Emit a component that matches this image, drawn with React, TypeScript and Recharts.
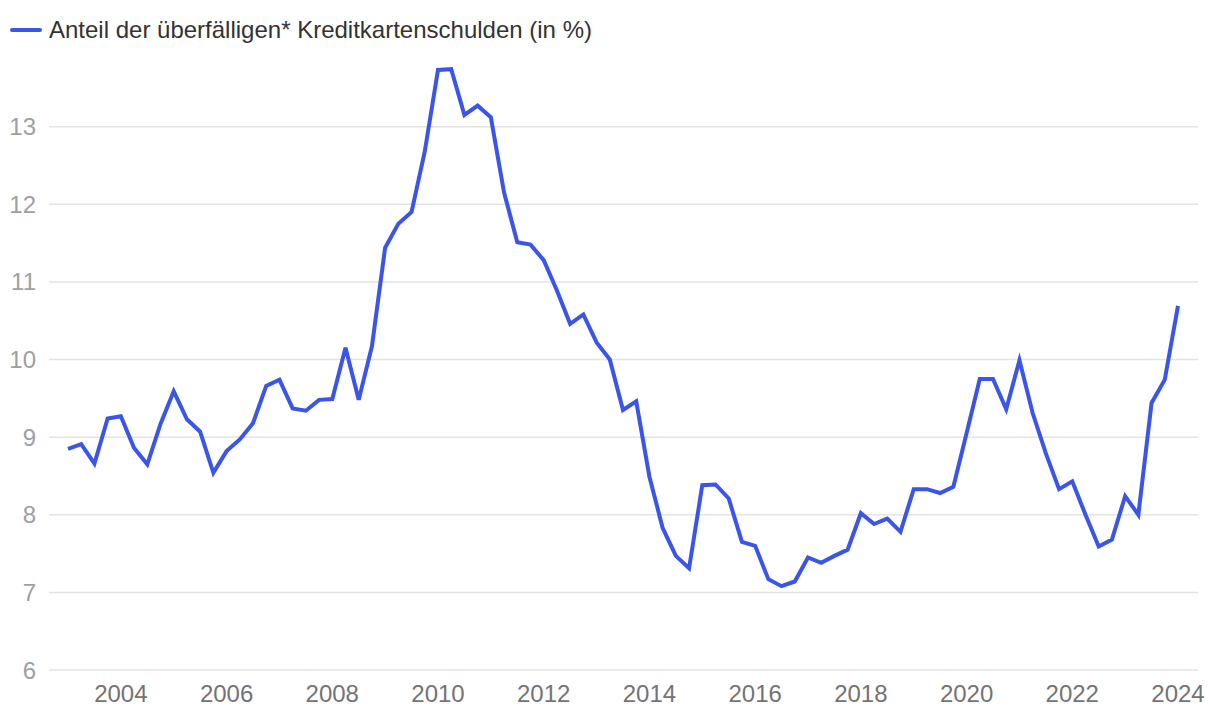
import { LineChart, Line, XAxis, YAxis, CartesianGrid } from 'recharts';

const seriesName = 'Anteil der überfälligen* Kreditkartenschulden (in %)';
const lineColor = '#3b55e8';

// quarterly values, 2003 Q1 .. 2024 Q1
const startYear = 2003;
const overdueShare = [
  8.85, 8.91, 8.66, 9.24, 9.27, 8.86, 8.65, 9.17, 9.59, 9.23, 9.07, 8.54,
  8.82, 8.97, 9.18, 9.66, 9.74, 9.37, 9.34, 9.48, 9.49, 10.15, 9.48, 10.17,
  11.44, 11.75, 11.9, 12.68, 13.73, 13.74, 13.15, 13.27, 13.12, 12.15, 11.51, 11.48,
  11.28, 10.89, 10.46, 10.58, 10.22, 10.0, 9.35, 9.46, 8.49, 7.83, 7.47, 7.31,
  8.38, 8.39, 8.21, 7.65, 7.6, 7.17, 7.08, 7.14, 7.45, 7.38, 7.47, 7.55,
  8.02, 7.88, 7.95, 7.78, 8.33, 8.33, 8.28, 8.36, 9.05, 9.75, 9.75, 9.36,
  9.99, 9.31, 8.79, 8.33, 8.43, 8.0, 7.59, 7.68, 8.24, 8.0, 9.44, 9.74,
  10.69,
];
const xTicks = [2004, 2006, 2008, 2010, 2012, 2014, 2016, 2018, 2020, 2022, 2024];
const yTicks = [6, 7, 8, 9, 10, 11, 12, 13];

const data = overdueShare.map((v, i) => ({ t: startYear + i / 4, value: v }));

const font = '"Liberation Sans", Arial, Helvetica, sans-serif';

// grid line per y tick; skip the top edge of the plot (no 14 line in the original)
function GridLine(props: any) {
  const { x1, x2, y1, y2, offset } = props;
  if (offset && Math.abs(y1 - offset.top) < 2) return <g />;
  return <line x1={x1} x2={x2} y1={y1} y2={y2} stroke="#e4e4e4" strokeWidth={1.5} />;
}

export default function App() {
  return (
    <div style={{ position: 'absolute', left: 0, top: 0, width: 1220, height: 716, background: '#fff', fontFamily: font }}>
      <div style={{ position: 'absolute', left: 10, top: 15, height: 30, display: 'flex', alignItems: 'center', whiteSpace: 'nowrap' }}>
        <span style={{ display: 'inline-block', width: 32, height: 4, borderRadius: 2, background: lineColor, marginRight: 7 }} />
        <span style={{ fontSize: 24, color: '#333', lineHeight: '30px' }}>{seriesName}</span>
      </div>
      <LineChart width={1220} height={716} data={data} margin={{ top: 49, right: 22, bottom: 0, left: 0 }}>
        <CartesianGrid vertical={false} horizontal={(p: any) => <GridLine key={p.key ?? p.index} {...p} />} />
        <XAxis
          dataKey="t"
          type="number"
          domain={[2003, 2024]}
          ticks={xTicks}
          padding={{ left: 19, right: 20 }}
          axisLine={false}
          tickLine={false}
          height={46}
          tickMargin={9}
          tick={{ fill: '#737373', fontSize: 24, fontFamily: font }}
        />
        <YAxis
          type="number"
          domain={[6, 14]}
          ticks={yTicks}
          axisLine={false}
          tickLine={false}
          width={49}
          tickMargin={7}
          tick={{ fill: '#a0a0a0', fontSize: 24, fontFamily: font }}
        />
        <Line
          type="linear"
          dataKey="value"
          stroke={lineColor}
          strokeWidth={4}
          dot={false}
          isAnimationActive={false}
        />
      </LineChart>
    </div>
  );
}
